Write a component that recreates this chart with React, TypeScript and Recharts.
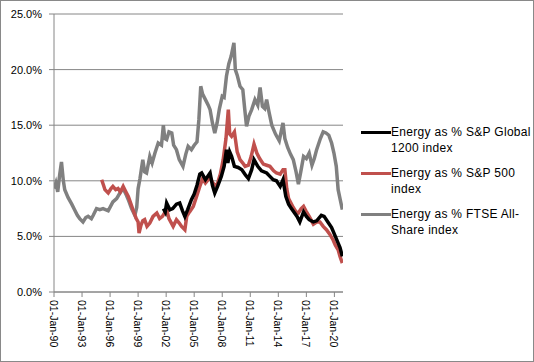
import React from 'react';
import { LineChart, Line, XAxis, YAxis, CartesianGrid } from 'recharts';

// year as decimal, value in %
const ftseDates = [
  1990.0, 1990.2, 1990.4, 1990.6, 1990.8, 1991.0, 1991.15, 1991.5, 1991.9, 1992.2, 1992.5, 1992.75,
  1993.1, 1993.4, 1993.65, 1994.0, 1994.2, 1994.55, 1994.9, 1995.25, 1995.8, 1996.3, 1996.7, 1997.05,
  1997.4, 1997.75, 1998.0, 1998.3, 1998.65, 1998.85, 1999.0, 1999.2, 1999.5, 1999.7, 1999.9, 2000.25,
  2000.5, 2000.8, 2001.15, 2001.5, 2001.7, 2001.85, 2002.05, 2002.3, 2002.6, 2002.8, 2003.1, 2003.4,
  2003.8, 2004.1, 2004.35, 2004.7, 2005.0, 2005.3, 2005.5, 2005.7, 2005.9, 2006.2, 2006.5, 2006.7,
  2006.95, 2007.2, 2007.45, 2007.7, 2008.0, 2008.2, 2008.45, 2008.7, 2008.95, 2009.25, 2009.4, 2009.6,
  2009.9, 2010.2, 2010.4, 2010.6, 2010.85, 2011.15, 2011.5, 2011.8, 2012.05, 2012.3, 2012.55, 2012.75,
  2013.0, 2013.3, 2013.7, 2014.1, 2014.5, 2014.7, 2015.0, 2015.3, 2015.6, 2015.9, 2016.15, 2016.4,
  2016.7, 2017.0, 2017.3, 2017.6, 2017.85, 2018.1, 2018.5, 2018.8, 2019.1, 2019.4, 2019.7, 2019.95,
  2020.2, 2020.4, 2020.6, 2020.85,
];
const ftseValues = [
  9.3, 9.8, 9.0, 10.5, 11.7, 10.0, 9.2, 8.5, 7.9, 7.4, 6.9, 6.6,
  6.3, 6.7, 6.8, 6.6, 6.9, 7.5, 7.4, 7.5, 7.3, 8.1, 8.4, 8.9,
  9.3, 8.7, 8.2, 7.5, 6.9, 7.6, 9.3, 10.2, 11.9, 10.8, 10.7, 12.2,
  11.6, 12.5, 13.4, 13.2, 15.0, 13.8, 13.7, 14.4, 14.3, 13.2, 12.8, 11.9,
  11.3, 12.4, 13.1, 12.8, 13.2, 13.5, 15.5, 18.5, 17.8, 17.3, 16.8, 16.4,
  15.2, 14.3, 15.2, 16.5, 17.6, 17.5, 19.4, 20.5, 21.2, 22.4, 20.0, 19.5,
  18.5, 18.2, 16.5, 14.9, 15.8, 16.4, 17.3, 16.8, 18.4, 16.7, 16.5, 17.3,
  16.2, 15.0, 14.2, 13.6, 15.2, 13.8, 13.0, 12.4, 11.9, 10.8, 9.7, 10.8,
  12.2, 12.0, 12.5, 11.4, 12.0, 12.8, 13.8, 14.4, 14.3, 14.1, 13.4, 12.5,
  11.3, 9.2, 8.4, 7.4,
];

const sp500Dates = [
  1995.1, 1995.3, 1995.45, 1995.8, 1996.1, 1996.3, 1996.6, 1996.85, 1997.1, 1997.4, 1997.7, 1997.95,
  1998.2, 1998.45, 1998.8, 1999.0, 1999.1, 1999.3, 1999.5, 1999.7, 1999.95, 2000.25, 2000.6, 2001.0,
  2001.3, 2001.6, 2002.05, 2002.3, 2002.75, 2003.1, 2003.4, 2003.65, 2004.0, 2004.2, 2004.5, 2004.9,
  2005.3, 2005.6, 2005.9, 2006.2, 2006.7, 2007.0, 2007.4, 2007.8, 2008.1, 2008.4, 2008.65, 2008.8,
  2009.0, 2009.3, 2009.6, 2009.9, 2010.2, 2010.45, 2010.8, 2011.1, 2011.4, 2011.7, 2012.0, 2012.4,
  2012.75, 2013.1, 2013.5, 2013.8, 2014.2, 2014.5, 2014.7, 2014.9, 2015.1, 2015.35, 2015.6, 2015.9,
  2016.15, 2016.45, 2016.7, 2016.95, 2017.3, 2017.75, 2018.1, 2018.45, 2018.8, 2019.15, 2019.5, 2019.85,
  2020.1, 2020.4, 2020.6, 2020.85,
];
const sp500Values = [
  10.1, 9.6, 9.2, 8.9, 9.3, 9.5, 9.2, 9.3, 9.0, 9.5, 9.0, 8.6,
  8.0, 7.4, 6.6, 6.3, 5.3, 6.0, 6.4, 6.5, 5.9, 6.2, 6.8, 7.1,
  6.6, 6.8, 7.4, 6.6, 5.9, 6.5, 6.2, 5.9, 5.6, 6.8, 7.2, 7.7,
  8.7, 9.5, 10.2, 9.8, 10.3, 9.8, 9.5, 10.6, 11.9, 13.8, 16.4, 14.2,
  14.0, 14.4, 12.6, 11.9, 11.6, 11.3, 11.4, 12.2, 13.3, 12.5, 12.0, 11.5,
  11.4, 11.3, 10.9, 10.7, 10.6, 11.0, 11.0, 9.3, 8.4, 8.0, 7.6, 7.2,
  7.1, 7.5, 7.7, 7.3, 6.8, 6.1, 6.3, 6.3, 5.9, 5.6, 5.2, 4.7,
  4.2, 3.8, 3.2, 2.6,
];

const globalDates = [
  2001.7, 2001.9, 2002.05, 2002.4, 2002.7, 2003.1, 2003.45, 2003.75, 2004.0, 2004.3, 2004.7, 2005.0,
  2005.3, 2005.6, 2005.8, 2006.2, 2006.7, 2006.95, 2007.2, 2007.5, 2007.9, 2008.2, 2008.45, 2008.6,
  2008.8, 2009.0, 2009.3, 2009.7, 2010.1, 2010.5, 2010.8, 2011.15, 2011.4, 2011.8, 2012.2, 2012.75,
  2013.1, 2013.45, 2013.8, 2014.2, 2014.5, 2014.8, 2015.1, 2015.4, 2016.0, 2016.3, 2016.7, 2017.0,
  2017.3, 2017.75, 2018.1, 2018.6, 2018.9, 2019.3, 2019.7, 2020.1, 2020.4, 2020.6, 2020.85,
];
const globalValues = [
  7.5, 7.2, 8.0, 7.4, 7.5, 7.9, 8.0, 7.3, 6.8, 7.4, 8.3, 8.8,
  9.6, 10.6, 10.7, 10.1, 10.7, 9.6, 8.9, 9.5, 10.4, 11.3, 12.8, 11.6,
  12.6, 12.2, 11.3, 11.2, 11.0, 10.5, 10.2, 11.0, 11.9, 11.3, 10.9, 10.7,
  10.4, 10.1, 10.0, 9.5, 10.1, 8.6, 7.9, 7.5, 6.8, 6.3, 7.2, 6.8,
  6.5, 6.3, 6.4, 6.9, 6.8, 6.3, 5.8, 5.0, 4.4, 4.0, 3.2,
];

const yearTicks = [1990, 1993, 1996, 1999, 2002, 2005, 2008, 2011, 2014, 2017, 2020];
const percentTicks = [0, 5, 10, 15, 20, 25];

const seriesNames = ['Energy as % S&P Global 1200 index', 'Energy as % S&P 500 index', 'Energy as % FTSE All-Share index'];
const legendLines = [
  ['Energy as % S&P Global', '1200 index'],
  ['Energy as % S&P 500', 'index'],
  ['Energy as % FTSE All-', 'Share index'],
];
const colors = ['#000000', '#C0504D', '#808080'];

const toRows = (dates: number[], values: number[]) => dates.map((t, i) => ({ t, v: values[i] }));
const globalData = toRows(globalDates, globalValues);
const sp500Data = toRows(sp500Dates, sp500Values);
const ftseData = toRows(ftseDates, ftseValues);

const FONT = '"Liberation Sans", Arial, sans-serif';

const DateTick = (props: any) => {
  const { x, y, payload } = props;
  const yy = String(payload.value % 100).padStart(2, '0');
  return (
    <text
      transform={`translate(${x},${y}) rotate(90)`}
      textAnchor="start"
      dominantBaseline="central"
      fontSize={10.5}
      fill="#000"
      fontFamily={FONT}
    >
      {`01-Jan-${yy}`}
    </text>
  );
};

const LegendBox = () => (
  <div
    style={{
      position: 'absolute',
      left: 361,
      top: 124,
      fontFamily: FONT,
      fontSize: 12,
      letterSpacing: 0.3,
      color: '#000',
    }}
  >
    {legendLines.map((lines, i) => (
      <div key={i} style={{ display: 'flex', alignItems: 'flex-start', marginBottom: 9 }}>
        <div style={{ width: 30, height: 3, background: colors[i], marginTop: 7 }} />
        <div style={{ lineHeight: '16px' }} title={seriesNames[i]}>
          {lines.map((l, j) => (
            <div key={j} style={{ whiteSpace: 'nowrap' }}>{l}</div>
          ))}
        </div>
      </div>
    ))}
  </div>
);

export default function App() {
  return (
    <div
      style={{
        position: 'absolute',
        left: 0,
        top: 0,
        width: 534,
        height: 362,
        boxSizing: 'border-box',
        border: '1px solid #898989',
        background: '#fff',
      }}
    >
      <div style={{ position: 'absolute', left: -1, top: -1 }}>
        <LineChart width={534} height={362} margin={{ top: 14, right: 191, bottom: 40, left: 0 }}>
          <CartesianGrid vertical={false} stroke="#868686" strokeWidth={1} />
          <XAxis
            type="number"
            dataKey="t"
            domain={[1990, 2020.92]}
            ticks={yearTicks}
            interval={0}
            height={30}
            stroke="#868686"
            tickSize={5}
            tickMargin={3}
            tick={<DateTick />}
            allowDataOverflow
          />
          <YAxis
            type="number"
            domain={[0, 25]}
            ticks={percentTicks}
            width={54}
            stroke="#868686"
            tickSize={5}
            tickMargin={7}
            tickFormatter={(v: number) => `${v.toFixed(1)}%`}
            tick={{ fill: '#000', fontSize: 11, fontFamily: FONT }}
          />
          <Line
            data={ftseData}
            dataKey="v"
            name={seriesNames[2]}
            stroke={colors[2]}
            strokeWidth={3.5}
            dot={false}
            isAnimationActive={false}
          />
          <Line
            data={sp500Data}
            dataKey="v"
            name={seriesNames[1]}
            stroke={colors[1]}
            strokeWidth={3.5}
            dot={false}
            isAnimationActive={false}
          />
          <Line
            data={globalData}
            dataKey="v"
            name={seriesNames[0]}
            stroke={colors[0]}
            strokeWidth={3.5}
            dot={false}
            isAnimationActive={false}
          />
        </LineChart>
        <LegendBox />
      </div>
    </div>
  );
}
